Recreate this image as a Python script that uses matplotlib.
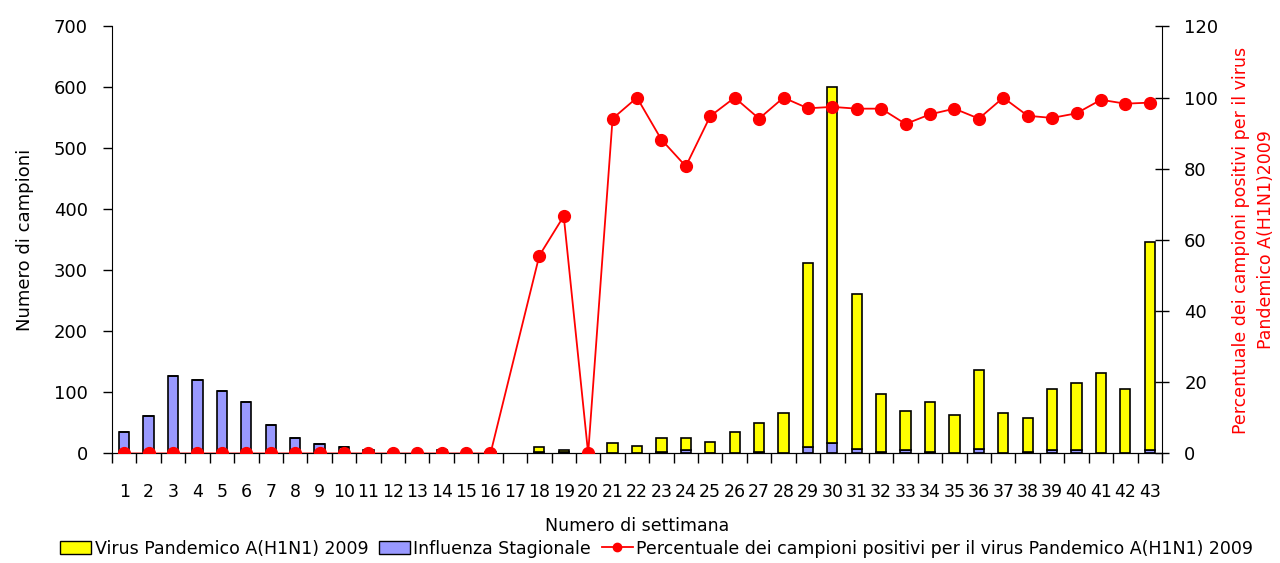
import numpy as np
import matplotlib.pyplot as plt
from matplotlib.lines import Line2D
from matplotlib.patches import Patch

# -----------------------------------------
# Dati: settimane, campioni e percentuale positivi
# -----------------------------------------
settimane = [str(s) for s in range(1, 44)]
stagionale = [35, 62, 127, 120, 103, 84, 46, 26, 16, 11, 6, 2, 1, 6, 1, 2, 0,
              3, 2, 0, 1, 1, 3, 6, 1, 1, 2, 1, 10, 17, 8, 2, 6, 3, 0, 8, 0,
              2, 5, 5, 0, 0, 5]
pandemico = [0, 0, 0, 0, 0, 0, 0, 0, 0, 0, 0, 0, 0, 0, 0, 0, 0,
             7, 4, 0, 16, 12, 23, 20, 18, 35, 48, 66, 302, 583, 254, 95, 63, 81,
             63, 129, 67, 56, 101, 110, 132, 106, 341]
percentuale = [0, 0, 0, 0, 0, 0, 0, 0, 0, 0, 0, 0, 0, 0, 0, 0, np.nan,
               55.6, 66.7, 0, 94.1, 100, 88.2, 80.7, 94.8, 100, 94.1, 100, 97.0,
               97.4, 96.9, 96.9, 92.6, 95.3, 96.9, 94.1, 100, 94.9, 94.3, 95.6,
               99.4, 98.3, 98.6]

x = np.arange(len(settimane))
perc = np.array(percentuale, dtype=float)
ok = ~np.isnan(perc)
# la settimana 17 non ha dati: nessuna barra
bar_mask = np.array([i != 16 for i in range(len(settimane))])

# -----------------------------------------
# Grafico
# -----------------------------------------
fig = plt.figure(figsize=(12.8, 5.63), dpi=100)
ax = fig.add_axes([0.0875, 0.1945, 0.8203, 0.7585])
w = 0.42
ax.bar(x[bar_mask], np.array(stagionale)[bar_mask], width=w, color="#9999FF",
       edgecolor="black", linewidth=1.2)
ax.bar(x[bar_mask], np.array(pandemico)[bar_mask], width=w,
       bottom=np.array(stagionale)[bar_mask], color="#FFFF00",
       edgecolor="black", linewidth=1.2)

ax.set_xlim(-0.5, len(settimane) - 0.5)
ax.set_ylim(0, 700)
ax.set_yticks(range(0, 701, 100))
ax.set_xticks(x)
ax.set_xticklabels(settimane, fontsize=12.5)
ax.set_xticks(np.arange(-0.5, len(settimane), 1), minor=True)
ax.tick_params(axis="x", which="major", length=0, pad=21)
ax.tick_params(axis="x", which="minor", length=7, width=1)
ax.tick_params(axis="y", length=6.5, width=1, pad=11, labelsize=13)
for s in ["top", "right"]:
    ax.spines[s].set_visible(False)
ax.set_xlabel("Numero di settimana", fontsize=12.5, labelpad=12)
ax.set_ylabel("Numero di campioni", fontsize=13, labelpad=14)

ax2 = ax.twinx()
ax2.plot(x[ok], perc[ok], color="red", linewidth=1.3, marker="o",
         markersize=8.5, zorder=5)
ax2.set_ylim(0, 120)
ax2.set_yticks(range(0, 121, 20))
ax2.tick_params(axis="y", direction="inout", length=10, width=1, pad=11,
                labelsize=13)
ax2.spines["top"].set_visible(False)
ax2.spines["left"].set_visible(False)
ax2.set_ylabel("Percentuale dei campioni positivi per il virus\nPandemico A(H1N1)2009",
               color="red", fontsize=12.5, labelpad=10, linespacing=1.5)

handles = [Patch(facecolor="#FFFF00", edgecolor="black"),
           Patch(facecolor="#9999FF", edgecolor="black"),
           Line2D([0], [0], color="red", marker="o", markersize=6, linewidth=1.3)]
labels = ["Virus Pandemico A(H1N1) 2009", "Influenza Stagionale",
          "Percentuale dei campioni positivi per il virus Pandemico A(H1N1) 2009"]
fig.legend(handles, labels, loc="lower center", bbox_to_anchor=(0.513, -0.018),
           ncol=3, frameon=False, fontsize=12.5, handlelength=1.8,
           handletextpad=0.2, columnspacing=0.6)

plt.savefig("out.png", dpi=100)
